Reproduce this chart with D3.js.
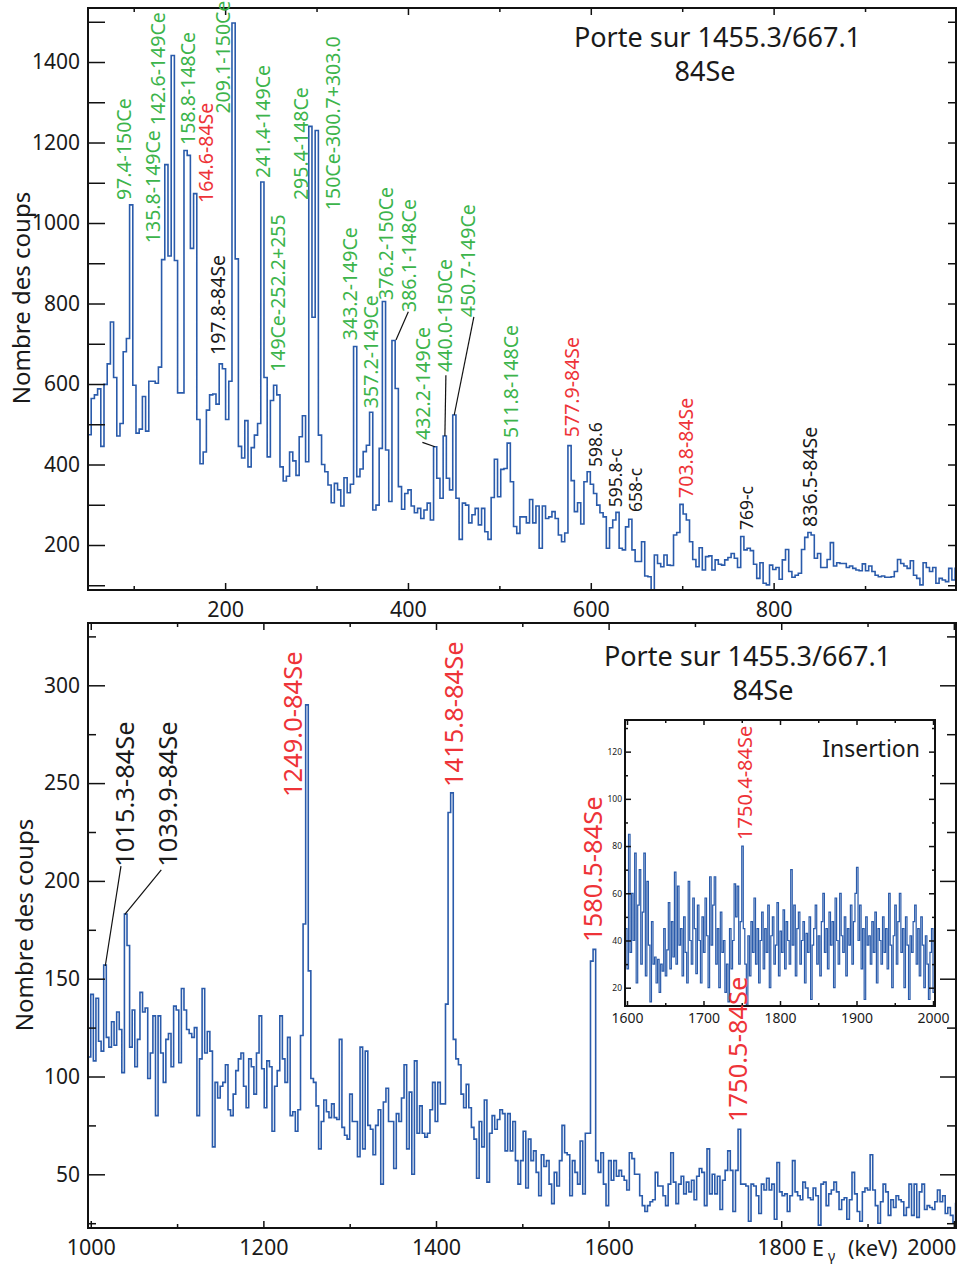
<!DOCTYPE html>
<html><head><meta charset="utf-8">
<script src="https://cdn.jsdelivr.net/npm/d3@7"></script>
<style>body{margin:0;background:#fff;} svg{display:block;}</style>
</head><body><svg id="c" width="958" height="1266"></svg>
<script>
// ---------- DATA ----------
// Upper spectrum: 3.5 keV bins starting at 50 keV
const topStart = 50, topBin = 3.5;
const topCounts = [
474,564,573,588,445,599,650,754,616,471,
502,680,713,1045,597,478,488,569,483,607,
607,602,642,909,1145,918,1416,907,578,578,
1180,1168,937,1073,512,402,431,535,573,575,
550,650,638,512,607,1497,911,445,416,509,
394,442,473,502,1102,616,419,559,597,573,
394,359,371,431,409,373,469,521,407,1240,
766,1230,473,400,382,
349,305,353,337,297,367,330,351,693,370,
389,432,448,530,287,299,440,805,436,308,
708,589,345,289,328,337,297,280,291,266,
287,304,262,444,366,316,471,366,337,523,
316,214,304,299,255,275,291,250,291,233,
214,318,413,320,388,390,453,357,246,229,
270,270,255,313,255,297,192,297,266,270,
283,266,
225,208,230,447,360,283,305,252,357,382,
351,328,299,280,270,192,243,262,281,192,
188,245,264,188,159,159,208,123,121,88,
175,154,146,175,150,149,225,231,301,277,
262,208,164,146,193,138,171,173,138,163,
152,150,163,169,179,167,144,221,188,192,
186,152,117,156,105,101,150,139,144,115,
163,189,134,120,125,130,189,219,231,225,
167,179,144,144,164,206,148,156,154,154,
144,148,142,138,136,153,136,148,134,125,
121,123,120,120,121,134,164,154,148,142,
161,125,117,101,156,144,134,144,105,117,
113,109,142,113,142];

// Lower spectrum: 3 keV bins starting at 997 keV
const botStart = 997, botBin = 3;
const botCounts = [
110,142,108,140,118,113,157,120,115,128,
116,133,124,102,183,167,115,134,105,119,
143,133,135,99,112,131,80,131,112,97,
119,122,105,136,134,107,145,134,124,122,
120,125,80,109,145,112,123,113,64,97,
89,95,97,106,83,80,91,103,109,112,
95,84,109,105,91,112,131,104,84,108,
105,72,95,103,131,109,97,120,80,82,
72,83,121,178,290,154,99,97,85,63,
77,88,82,79,86,79,78,119,74,70,
68,91,77,77,59,115,63,113,75,73,
60,75,83,45,
87,94,77,77,53,81,77,89,106,63,
92,50,108,71,85,71,69,71,83,97,
77,97,86,86,137,235,245,
119,109,106,91,84,96,84,74,68,48,
77,64,88,46,71,80,73,78,83,81,
62,81,62,77,57,45,57,72,43,68,
57,62,51,39,60,54,57,45,35,51,
44,57,75,61,60,39,57,51,45,67,
40,71,71,159,165,
57,51,61,45,34,57,47,57,49,52,
49,47,42,61,58,50,50,39,34,31,
34,36,37,51,44,44,
39,34,45,61,46,35,45,49,40,46,
41,47,37,49,53,51,34,63,40,50,
40,49,32,47,52,62,52,31,52,73,
45,45,44,26,45,44,39,30,45,42,
48,42,45,27,56,41,39,40,31,39,
57,41,39,37,46,43,38,37,43,39,
24,45,46,34,40,42,46,41,32,37,
38,27,37,51,40,31,26,41,43,42,
60,42,34,25,36,45,41,29,37,33,
39,37,36,29,33,45,29,45,28,41,
45,32,34,33,32,36,42,36,39,30,
33,29,25,35];

// Inset spectrum: 2 keV bins starting at 1598 keV
const insStart = 1598, insBin = 2;
const insCounts = [
45,28,85,35,60,40,77,22,55,70,
30,52,77,25,65,38,14,48,30,33,
22,32,18,30,27,45,25,36,56,28,
48,33,69,30,63,38,45,25,50,35,
22,65,40,30,58,45,26,55,40,22,
50,35,58,42,20,67,38,55,67,30,
45,20,52,35,40,18,30,14,45,28,
40,64,50,63,30,48,80,45,30,12,
42,25,48,35,58,30,45,22,40,52,
28,45,35,55,20,42,50,30,38,56,
25,44,35,53,28,48,40,30,70,38,
55,25,45,52,30,40,48,22,43,35,
50,15,38,45,55,30,42,25,48,60,
35,45,28,52,38,48,20,58,40,30,
60,42,35,50,25,45,38,55,30,48,
60,71,40,55,28,45,15,50,38,42,
30,48,35,52,22,45,40,30,50,35,
45,28,60,38,20,42,55,30,48,60,
35,45,20,50,38,15,42,35,48,55,
30,45,25,50,38,20,42,30,15,35,
45,18,40];

// Tick values
const topYMajor = [200,400,600,800,1000,1200,1400];
const topYMinor = [100,300,500,700,900,1100,1300,1500];
const topXMajor = [200,400,600,800];
const topXMinor = [100,300,500,700,900];
const botYMajor = [50,100,150,200,250,300];
const botYMinor = [25,75,125,175,225,275,325];
const botXMajor = [1000,1200,1400,1600,1800,2000];
const botXMinor = [1100,1300,1500,1700,1900];
const insYMajor = [20,40,60,80,100,120];
const insYMinor = [30,50,70,90,110,130];
const insXMajor = [1600,1700,1800,1900,2000];
const insXMinor = [1650,1750,1850,1950];

// Peak annotations (energy keV, counts at text start, kind)
const topLabelText = ["97.4-150Ce","135.8-149Ce","142.6-149Ce","158.8-148Ce","164.6-84Se","209.1-150Ce","197.8-84Se","241.4-149Ce","149Ce-252.2+255","295.4-148Ce","150Ce-300.7+303.0","343.2-149Ce","357.2-149Ce","376.2-150Ce","386.1-148Ce","432.2-149Ce","440.0-150Ce","450.7-149Ce","511.8-148Ce","577.9-84Se","598.6","595.8-c","658-c","703.8-84Se","769-c","836.5-84Se"];
const topLabelE = [97.3,128.6,134.1,167.2,186.9,205.5,200,249.2,265.6,290.7,325.7,344.3,367.2,383.6,408.7,424,448.1,473.2,520.2,586.9,612,633.9,655.7,711.5,777,847];
const topLabelC = [1057,950,1243,1194,1050,1272,672,1112,630,1057,1032,709,540,809,779,461,630,766,466,468,394,294,282,317,237,245];
const topLabelKind = ["Ce","Ce","Ce","Ce","Se","Ce","o","Ce","Ce","Ce","Ce","Ce","Ce","Ce","Ce","Ce","Ce","Ce","Ce","Se","o","o","o","Se","o","o"];
const topLeadFrom = [[400.4,779.6],[415.8,455],[441.5,622],[472.1,767]];
const topLeadTo   = [[386.9,709.3],[429.5,444],[440.4,471],[450.6,523]];

const botLabelText = ["1015.3-84Se","1039.9-84Se","1249.0-84Se","1415.8-84Se","1580.5-84Se","1750.5-84Se"];
const botLabelE = [1050.1,1099.9,1244.7,1431.3,1592.4,1760.4];
const botLabelC = [207.2,207.2,242.9,248.0,168.8,76.7];
const botLabelKind = ["o","o","Se","Se","Se","Se"];
const botLeadFrom = [[1035,207.6],[1081.7,205.6]];
const botLeadTo   = [[1016.8,156.5],[1039.5,182.9]];

const insLabelText = ["1750.4-84Se"];
const insLabelE = [1763.4];
const insLabelC = [82.6];

const titleLines = ["Porte sur 1455.3/667.1","84Se"];
const yTitle = "Nombre des coups";

// ---------- DRAW ----------
const FONT = '"Noto Sans", sans-serif';
const BLUE = '#2a5bab';
const COL = {Ce:'#3cb44b', Se:'#ee3338', o:'#1a1a1a'};
const svg = d3.select('#c');
const defs = svg.append('defs');
const fmtInt = d3.format('d');

const xT = d3.scaleLinear().domain([50,999.5]).range([88,956]);
const yT = d3.scaleLinear().domain([88.2,1534.2]).range([590,8]);
const xB = d3.scaleLinear().domain([996.8,2002.5]).range([88,956]);
const yB = d3.scaleLinear().domain([22.55,331.85]).range([1228,623]);
const xI = d3.scaleLinear().domain([1597.4,2002.6]).range([625,935]);
const yI = d3.scaleLinear().domain([12.25,133.4]).range([1006,720]);

function clip(id,x,y){
  const [x0,x1]=x.range(), [y1,y0]=y.range();
  defs.append('clipPath').attr('id',id).append('rect').attr('x',x0).attr('y',y0).attr('width',x1-x0).attr('height',y1-y0);
}
clip('cT',xT,yT); clip('cB',xB,yB); clip('cI',xI,yI);

function hist(counts,start,bin,x,y,cid,w){
  const pts = counts.map((c,i)=>[start+i*bin,c]);
  pts.push([start+counts.length*bin,counts[counts.length-1]]);
  svg.append('path')
    .attr('d', d3.line().x(d=>x(d[0])).y(d=>y(d[1])).curve(d3.curveStepAfter)(pts))
    .attr('fill','none').attr('stroke',BLUE).attr('stroke-width',w)
    .attr('stroke-linejoin','miter').attr('clip-path',`url(#${cid})`);
}

function axis(gen, tx, ty, vals, size, fs, pad, withLabels){
  const a = gen.tickValues(vals).tickSize(-size).tickPadding(pad)
    .tickFormat(withLabels ? fmtInt : '');
  const g = svg.append('g').attr('transform',`translate(${tx},${ty})`).call(a);
  g.attr('font-family',FONT).attr('font-size',fs);
  g.select('.domain').remove();
  g.selectAll('.tick line').attr('stroke','#111').attr('stroke-width',1.5);
  g.selectAll('.tick text').attr('fill','#1a1a1a');
  return g;
}

function frameAxes(x,y,o){
  const [x0,x1]=x.range(), [y1,y0]=y.range();
  axis(d3.axisLeft(y), x0, 0, o.yMaj, o.lMaj, o.yfs, o.ypad, true);
  axis(d3.axisLeft(y), x0, 0, o.yMin, o.lMin, o.yfs, o.ypad, false);
  axis(d3.axisRight(y), x1, 0, o.yMaj, o.rMaj, o.yfs, 0, false);
  axis(d3.axisRight(y), x1, 0, o.yMin, o.rMin, o.yfs, 0, false);
  const gb = axis(d3.axisBottom(x), 0, y1, o.xMaj, o.bMaj, o.xfs, o.xpad, true);
  axis(d3.axisBottom(x), 0, y1, o.xMin, o.bMin, o.xfs, o.xpad, false);
  axis(d3.axisTop(x), 0, y0, o.xMaj, o.bMaj, o.xfs, 0, false);
  axis(d3.axisTop(x), 0, y0, o.xMin, o.bMin, o.xfs, 0, false);
  svg.append('rect').attr('x',x0).attr('y',y0).attr('width',x1-x0).attr('height',y1-y0)
    .attr('fill','none').attr('stroke','#111').attr('stroke-width',2);
  return gb;
}

function vlabel(text,x,y,color,fs){
  svg.append('text').attr('transform',`translate(${x},${y}) rotate(-90)`)
    .attr('font-family',FONT).attr('font-size',fs).attr('fill',color).text(text);
}
function leader(a,b,x,y){
  svg.append('line').attr('x1',x(a[0])).attr('y1',y(a[1])).attr('x2',x(b[0])).attr('y2',y(b[1]))
    .attr('stroke','#111').attr('stroke-width',1.2);
}

// ---- Upper panel ----
hist(topCounts,topStart,topBin,xT,yT,'cT',1.6);
frameAxes(xT,yT,{yMaj:topYMajor,yMin:topYMinor,lMaj:17,lMin:17,rMaj:8,rMin:8,yfs:21,ypad:8,
  xMaj:topXMajor,xMin:topXMinor,bMaj:7,bMin:4,xfs:21.5,xpad:12});
topLabelText.forEach((t,i)=>{
  const small = !/Ce|Se/.test(t);
  vlabel(t, xT(topLabelE[i]), yT(topLabelC[i]), COL[topLabelKind[i]], small?17.5:19.5);
});
topLeadFrom.forEach((a,i)=>leader(a,topLeadTo[i],xT,yT));
svg.append('text').attr('x',717.5).attr('y',47).attr('text-anchor','middle').attr('font-family',FONT).attr('font-size',27).attr('fill','#1a1a1a').text(titleLines[0]);
svg.append('text').attr('x',705).attr('y',81).attr('text-anchor','middle').attr('font-family',FONT).attr('font-size',27).attr('fill','#1a1a1a').text(titleLines[1]);
svg.append('text').attr('transform','translate(30,298) rotate(-90)').attr('text-anchor','middle').attr('font-family',FONT).attr('font-size',24).attr('fill','#1a1a1a').text(yTitle);

// ---- Lower panel ----
hist(botCounts,botStart,botBin,xB,yB,'cB',1.6);
const gbB = frameAxes(xB,yB,{yMaj:botYMajor,yMin:botYMinor,lMaj:17,lMin:8,rMaj:16,rMin:9,yfs:21,ypad:8,
  xMaj:botXMajor,xMin:botXMinor,bMaj:7,bMin:4,xfs:21.5,xpad:12});
gbB.selectAll('.tick text').filter(d=>d===2000).attr('text-anchor','end').attr('x',2);
svg.append('text').attr('x',747.5).attr('y',666).attr('text-anchor','middle').attr('font-family',FONT).attr('font-size',27).attr('fill','#1a1a1a').text(titleLines[0]);
svg.append('text').attr('x',763).attr('y',700).attr('text-anchor','middle').attr('font-family',FONT).attr('font-size',27).attr('fill','#1a1a1a').text(titleLines[1]);
svg.append('text').attr('transform','translate(33,925) rotate(-90)').attr('text-anchor','middle').attr('font-family',FONT).attr('font-size',24).attr('fill','#1a1a1a').text(yTitle);
const ax = svg.append('text').attr('y',1256).attr('font-family',FONT).attr('font-size',21.5).attr('fill','#1a1a1a');
ax.append('tspan').attr('x',812).text('E');
ax.append('tspan').attr('x',828).attr('dy',5).attr('font-size',14).text('γ');
ax.append('tspan').attr('x',848).attr('dy',-5).text('(keV)');
botLeadFrom.forEach((a,i)=>leader(a,botLeadTo[i],xB,yB));

// ---- Inset ----
svg.append('rect').attr('x',625).attr('y',720).attr('width',310).attr('height',286).attr('fill','#fff');
hist(insCounts,insStart,insBin,xI,yI,'cI',1.2);
frameAxes(xI,yI,{yMaj:insYMajor,yMin:insYMinor,lMaj:6,lMin:3,rMaj:6,rMin:3,yfs:8.5,ypad:3,
  xMaj:insXMajor,xMin:insXMinor,bMaj:5,bMin:3,xfs:14,xpad:7});
insLabelText.forEach((t,i)=>vlabel(t, xI(insLabelE[i]), yI(insLabelC[i]), COL.Se, 20));
svg.append('text').attr('x',920).attr('y',757).attr('text-anchor','end').attr('font-family',FONT).attr('font-size',23).attr('fill','#1a1a1a').text('Insertion');

// lower-panel peak labels drawn last (one overlaps the inset)
botLabelText.forEach((t,i)=>vlabel(t, xB(botLabelE[i]), yB(botLabelC[i]), COL[botLabelKind[i]], 25.5));
</script></body></html>
